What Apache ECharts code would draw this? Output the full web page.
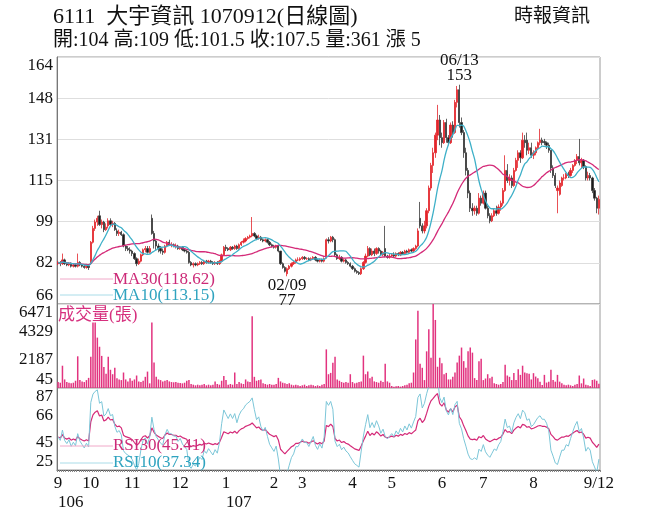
<!DOCTYPE html>
<html><head><meta charset="utf-8">
<script src="https://cdn.jsdelivr.net/npm/echarts@6/dist/echarts.min.js"></script>
<style>html,body{margin:0;padding:0;background:#fff}#c{width:656px;height:525px}</style>
</head><body><div id="c"></div>
<script>
// ---- data ----
const opens = [
82,82.5,82,83.5,82,81.5,82,81,81.5,81,
82.5,81.5,81,80.5,81,82,90.5,96,98.5,101,
97.5,98.5,95.5,97,99,97.5,98,95,94,94.5,
93.5,89,88,87.5,87,86,84,82,83,85.5,
87.5,88,86.5,100,94,91,89,88,87,86.5,
89,90.5,89.5,89.5,89,89,88,88.5,87.5,87,
86.5,82.5,81.5,82,81.5,82,82.5,82,83,82.5,
83,82.5,82,82.5,82,83,85.5,88.5,88,87.5,
88.5,88,89,88,89.5,90.5,91,92,92.5,93,
94,93,92,92.5,91.5,91,91.5,90.5,89.5,89,
88.5,89,87,82,80.5,78,80,81,82,82.5,
83.5,83.5,84,84.5,84,84,83.5,84,84.5,83.5,
83,83.5,83,84.5,91.5,91,92.5,91.5,85.5,84,
84.5,83,83.5,82.5,82,81,80,79,78.5,78,
80,82.5,85,88,85.5,87,86,88,87,85.5,
88,85,84.5,85,85.5,85,86,85.5,86.5,86,
87,86.5,87.5,87,88,89,100,97,95,97,
103,112,121,126,133,139,132,130,138,132,
130,137,134,146,151,138,134,126,119,110,
104,103,104,102,108,106,110,104,101,99,
101,103,102,104.5,106,111,119,115,116,113,
119,123,126,124,131,131,127,128,125,126,
128,130,131,130.5,130,129,127,120,117,111,
109.5,113,116,116,117.5,117,119,121,123,124.5,
122,123,120.5,116,117,116,111,108,104];
const closes = [
82.5,82,83.5,82,81.5,82,81,81.5,81,82.5,
81.5,81,80.5,81,80.5,90.5,96,98.5,100,97.5,
98.5,95.5,96.5,99,97.5,98,95.5,94,94.5,93.5,
89,88,87.5,87,86,84,82,83,85.5,87.5,
88,86.5,88,94,91,89,88,87,86.5,89,
90.5,89.5,89.5,89,89,88,88.5,87.5,87,86.5,
82.5,81.5,82,81.5,82,82.5,82,83,82.5,83,
82.5,82,82.5,82,83,85.5,88.5,88,87.5,88.5,
88,89,88,89.5,90.5,91,92,92.5,93,94,
93,92,92.5,91.5,91,91.5,90.5,89.5,89,88.5,
89,87,82,80.5,79,80,81,82,82.5,83.5,
83.5,84,84.5,84,84,83.5,84,84.5,83.5,83,
83.5,83,84,91.5,91,92.5,91.5,85.5,84,84.5,
83,83.5,82.5,82,81,80,79,78.5,78,80,
82.5,85,88,85.5,87,86,88,87,85.5,86.5,
85,84.5,85,85.5,85,86,85.5,86.5,86,87,
86.5,87.5,87,88,89,95,97,95,97,103,
112,121,126,133,139,132,130,138,132,130,
137,134,146,151,138,134,126,119,110,104,
103,104,102,108,106,110,104,101,99,101,
103,102,104.5,106,111,119,115,116,113,119,
123,126,124,131,130,127,128,125,126,128,
130,131,130,130,129,127,120,117,113,112,
114,116,116,117.5,117,119,121,123,124.5,122,
123,120.5,116,117,116,111,108,104,107.5];
const lows = [
81.5,81,81.5,81.5,81,81,80.5,80.5,80.5,80.5,
81,80.5,80,80,79.5,81.5,90,95,97,97,
96,94.5,95,96,97,96.5,95,93,93,93,
88.5,87,87,86,85,83.5,81,81.5,82.5,85,
86.5,86,86,93.5,88,87.5,86.5,86,85.5,86,
88.5,89,88.5,88.5,88,87.5,87.5,87,86.5,86,
82,81,80.5,81,81,81.5,81.5,81.5,82,82,
82,81.5,81.5,81.5,81.5,82.5,85,87,87,87,
87.5,87.5,87.5,87.5,89,90,90.5,91.5,92,92.5,
92.5,91.5,91.5,91,90.5,90.5,90,89,88.5,88,
88,86.5,81.5,80,78.5,77,79.5,80.5,81.5,82,
83,83,83.5,83.5,83.5,83,83,83.5,83,82.5,
82.5,82.5,82.5,84,90,90.5,90.5,85,83.5,83.5,
82.5,82.5,82,81.5,80.5,79.5,78.5,78,77.5,77.5,
79.5,82,84.5,85,85,85,85.5,86,85,85,
84.5,84,84,84.5,84.5,84.5,85,85,85.5,85.5,
86,86,86.5,86.5,87.5,88.5,96,94,94,96,
102,111,118,124,131,129,128,129.5,130,129,
129.5,132,133.5,144,136,133,124,117,108,102.5,
101,101.5,101,101.5,105,105.5,103.5,100,98,98.5,
100.5,101,101.5,103,105,110.5,114,113,112,112.5,
118.5,120,122,123.5,128,125,125.5,124,123.5,125,
127,129,129,129,127.5,126,118,116,112,102,
109,112.5,115,115.5,116,116.5,118,120.5,121.5,121,
120,119.5,115,115,115,110,107,102,101.5];
const highs = [
83,83,86,84,82.5,82.5,82.5,82,82,86,
83,82,81.5,81.5,81.5,91,97,99.5,101,103,
99.5,99,98,100,100,99,98.5,96,95.5,95,
94,89.5,89,88.5,87.5,86.5,84.5,84,86,88,
89,89,89,101.5,95,91.5,90,89,88,89.5,
91,91.5,90.5,90,90,89.5,89,89,88,87.5,
87,83,82.5,82.5,82.5,83,83,83.5,83.5,83.5,
83.5,83,83,83,83.5,86,89,89.5,88.5,89,
89,89.5,89.5,90,91,92,92.5,93,93.5,100.5,
94.5,93.5,93.5,93,92,92,92,91,90,89.5,
89.5,89.5,87,82.5,81,80.5,81.5,82.5,83,84,
84.5,84.5,85,85,84.5,84.5,84.5,85,85,84,
84,84,84.5,92,92.5,93,93,92,86,85.5,
85,84,84,83,82.5,81.5,80.5,79.5,79,80.5,
83,86,89,88.5,88,88,88.5,88.5,87.5,87,
97,85.5,86,86,86.5,86.5,86.5,87,87,87.5,
87.5,88,88,88.5,89.5,96,106.5,98,99,104,
113,122,128,134,145,141,134,139,139.5,133,
138,138.5,147,152.5,153,140,135,128,120,111,
106,105,105,110,109,111,111,105,102,102,
104,105,105.5,107,112,125,121.5,117.5,117,120,
124,127,127,134,133,134,130,130,127,128.5,
130.5,135.5,132,131.5,130.5,130,127,121,118,113,
115,116.5,117.5,118,118.5,120,121.5,123.5,125.5,131.5,
124,123.5,121,118.5,118,116.5,112,108.5,109];
const volumes = [
500,450,1750,700,500,450,400,450,600,2470,
650,550,500,650,820,2440,5050,5050,3900,3200,
2500,1650,1130,2440,1440,1100,1590,800,700,650,
1230,700,550,800,600,700,1000,550,500,600,
900,1300,400,5050,2000,900,700,650,550,600,
650,550,500,480,500,450,420,400,450,600,
650,350,300,250,300,250,300,350,250,300,
250,300,550,350,300,600,970,650,300,350,
300,1230,350,500,400,350,700,550,500,5540,
900,600,650,700,400,350,300,350,300,300,
350,820,550,450,400,350,400,300,250,300,
250,200,250,300,200,250,300,250,200,250,
200,300,350,3000,1100,1200,1980,2440,700,600,
500,450,500,450,1100,500,400,450,500,550,
2520,1100,1300,800,900,550,500,450,600,500,
1900,550,450,200,150,180,200,150,200,250,
300,400,450,1230,3760,5950,1900,1590,650,2850,
4530,2360,6471,5250,1670,2360,1940,1100,1200,700,
700,900,1230,2000,2520,3140,2100,1590,2850,3140,
2750,800,650,2100,2290,650,770,1100,800,900,
400,350,300,350,500,1820,1000,900,650,1200,
650,1480,1050,1750,1230,1180,1130,700,1180,920,
790,530,280,1050,460,530,1440,660,530,1050,
530,400,300,250,300,250,200,300,350,1000,
400,770,300,250,200,660,700,600,361];
const monthStarts = [0,15,34,56,77,99,112,135,153,176,195,218,248];
const monthLabels = ['9','10','11','12','1','2','3','4','5','6','7','8','9/12'];
const yearStarts = [0,77];
const yearLabels = ['106','107'];
const peakDate = '06/13', troughDate = '02/09';
const titleText = '6111  大宇資訊 1070912(日線圖)';
const infoText = '開:104 高:109 低:101.5 收:107.5 量:361 漲 5';
const sourceText = '時報資訊';
const maLegend = ['MA30(118.62)','MA10(113.15)'];
const rsiLegend = ['RSI30(45.41)','RSI10(37.34)'];

// ---- derived ----
const days = closes.map((_, i) => String(i));
const candles = closes.map((c, i) => [opens[i], c, lows[i], highs[i]]);
function ma(n) {
  return closes.map((_, i) => {
    const s = Math.max(0, i - n + 1); let t = 0;
    for (let k = s; k <= i; k++) t += closes[k];
    return +(t / (i - s + 1)).toFixed(2);
  });
}
function rsi(n) {
  let ag = 0.5, al = 0.5; const out = [];
  for (let i = 0; i < closes.length; i++) {
    if (i > 0) {
      const d = closes[i] - closes[i - 1];
      ag = (ag * (n - 1) + Math.max(d, 0)) / n;
      al = (al * (n - 1) + Math.max(-d, 0)) / n;
    }
    out.push(+(100 - 100 / (1 + ag / al)).toFixed(2));
  }
  return out;
}
let peakIdx = 0, lowIdx = 0;
highs.forEach((h, i) => { if (h > highs[peakIdx]) peakIdx = i; });
lows.forEach((l, i) => { if (l < lows[lowIdx]) lowIdx = i; });

const SERIF = '"Liberation Serif","Times New Roman","Noto Sans CJK TC",serif';
const RED = '#e3242b', BLK = '#1b1b1b', PINK = '#d42a78', CYAN = '#3eb0c8';
const lbl = { fontFamily: SERIF, fontSize: 17, color: '#111' };

const chart = echarts.init(document.getElementById('c'), null, { renderer: 'canvas' });
const gridBase = { left: 57, right: 56, show: true, borderColor: '#9a9a9a', borderWidth: 1, backgroundColor: '#fff' };
const catAxis = (g) => ({ type: 'category', gridIndex: g, data: days, boundaryGap: true,
  axisLine: { show: false }, axisTick: { show: false }, axisLabel: { show: false }, splitLine: { show: false } });

chart.setOption({
  animation: false,
  backgroundColor: '#fff',
  title: [
    { text: titleText, left: 53, top: 6, padding: 0, textStyle: { fontFamily: SERIF, fontSize: 22, fontWeight: 'normal', color: '#111' } },
    { text: infoText, left: 53, top: 31, padding: 0, textStyle: { fontFamily: SERIF, fontSize: 20, fontWeight: 'normal', color: '#111' } },
    { text: sourceText, left: 514, top: 8, padding: 0, textStyle: { fontFamily: SERIF, fontSize: 19, fontWeight: 'normal', color: '#111' } }
  ],
  grid: [
    Object.assign({ top: 57, height: 247 }, gridBase),
    Object.assign({ top: 304, height: 84 }, gridBase),
    Object.assign({ top: 388, height: 82 }, gridBase)
  ],
  xAxis: [
    catAxis(0), catAxis(1),
    { type: 'category', gridIndex: 2, data: days, boundaryGap: true,
      axisLine: { show: true, lineStyle: { color: '#555' } },
      axisTick: { show: true, interval: 0, length: 2, lineStyle: { color: '#888' } },
      axisLabel: Object.assign({ interval: (i) => monthStarts.includes(i), margin: 5,
        formatter: (v, i) => monthLabels[monthStarts.indexOf(i)] }, lbl),
      splitLine: { show: false } },
    { type: 'category', gridIndex: 2, data: days, boundaryGap: true, position: 'bottom', offset: 19,
      axisLine: { show: false }, axisTick: { show: false },
      axisLabel: Object.assign({ interval: (i) => yearStarts.includes(i), margin: 5, align: 'left',
        formatter: (v, i) => yearLabels[yearStarts.indexOf(i)] }, lbl),
      splitLine: { show: false } }
  ],
  yAxis: [
    { type: 'value', gridIndex: 0, min: 66, max: 164, interval: 98 / 6,
      axisLine: { show: true, lineStyle: { color: '#777' } }, axisTick: { show: false },
      splitLine: { show: true, lineStyle: { color: '#dedede' } },
      axisLabel: Object.assign({ margin: 4, formatter: (v) => String(Math.round(v)),
        verticalAlignMinLabel: 'bottom', verticalAlignMaxLabel: 'top' }, lbl) },
    { type: 'value', gridIndex: 1, min: 45, max: 6471, interval: 2142,
      axisLine: { show: true, lineStyle: { color: '#777' } }, axisTick: { show: false },
      splitLine: { show: false },
      axisLabel: Object.assign({ margin: 4, formatter: (v) => String(Math.round(v)),
        verticalAlignMinLabel: 'bottom', verticalAlignMaxLabel: 'top' }, lbl) },
    { type: 'value', gridIndex: 2, min: 25, max: 87, interval: 62 / 3,
      axisLine: { show: true, lineStyle: { color: '#777' } }, axisTick: { show: false },
      splitLine: { show: false },
      axisLabel: Object.assign({ margin: 4, formatter: (v) => String(Math.floor(v + 1e-6)),
        verticalAlignMinLabel: 'bottom', verticalAlignMaxLabel: 'top' }, lbl) }
  ],
  series: [
    { type: 'candlestick', name: 'K', xAxisIndex: 0, yAxisIndex: 0, data: candles, barWidth: 1.8,
      itemStyle: { color: RED, color0: BLK, borderColor: RED, borderColor0: '#3a3a3a', borderWidth: 0.8 },
      markPoint: { silent: true, symbol: 'circle', symbolSize: 1, itemStyle: { color: 'rgba(0,0,0,0)' },
        label: { show: true, fontFamily: SERIF, fontSize: 17, lineHeight: 15, color: '#111' },
        data: [
          { coord: [String(peakIdx), highs[peakIdx]], label: { position: 'top', distance: 1, formatter: peakDate + '\n' + highs[peakIdx] } },
          { coord: [String(lowIdx), lows[lowIdx]], label: { position: 'bottom', distance: 1, formatter: troughDate + '\n' + lows[lowIdx] } }
        ] } },
    { type: 'line', name: 'MA30', xAxisIndex: 0, yAxisIndex: 0, data: ma(30), symbol: 'none', smooth: 0.3,
      lineStyle: { color: PINK, width: 1.3 }, z: 3 },
    { type: 'line', name: 'MA10', xAxisIndex: 0, yAxisIndex: 0, data: ma(10), symbol: 'none', smooth: 0.3,
      lineStyle: { color: CYAN, width: 1.3 }, z: 3 },
    { type: 'bar', name: 'VOL', xAxisIndex: 1, yAxisIndex: 1, data: volumes, barWidth: 1.5,
      itemStyle: { color: '#e2337f' } },
    { type: 'line', name: 'RSI30', xAxisIndex: 2, yAxisIndex: 2, data: rsi(30), symbol: 'none',
      lineStyle: { color: PINK, width: 1.2 } },
    { type: 'line', name: 'RSI10', xAxisIndex: 2, yAxisIndex: 2, data: rsi(10), symbol: 'none',
      lineStyle: { color: '#7cc6d8', width: 1 } }
  ],
  graphic: [
    { type: 'line', shape: { x1: 60, y1: 279, x2: 113, y2: 279 }, style: { stroke: '#f0a8c8', lineWidth: 1 }, z: 10 },
    { type: 'text', x: 113, y: 280, z: 10, style: { text: maLegend[0], fill: '#cc2a78', fontFamily: SERIF, fontSize: 17, verticalAlign: 'middle' } },
    { type: 'line', shape: { x1: 60, y1: 295, x2: 113, y2: 295 }, style: { stroke: '#a9dce8', lineWidth: 1 }, z: 10 },
    { type: 'text', x: 113, y: 296, z: 10, style: { text: maLegend[1], fill: '#2fa3bf', fontFamily: SERIF, fontSize: 17, verticalAlign: 'middle' } },
    { type: 'text', x: 58, y: 316, z: 10, style: { text: '成交量(張)', fill: '#d6307e', fontFamily: SERIF, fontSize: 17, verticalAlign: 'middle' } },
    { type: 'line', shape: { x1: 60, y1: 446, x2: 113, y2: 446 }, style: { stroke: '#f0a8c8', lineWidth: 1 }, z: 10 },
    { type: 'text', x: 113, y: 446, z: 10, style: { text: rsiLegend[0], fill: '#cc2a78', fontFamily: SERIF, fontSize: 17, verticalAlign: 'middle' } },
    { type: 'line', shape: { x1: 60, y1: 463, x2: 113, y2: 463 }, style: { stroke: '#a9dce8', lineWidth: 1 }, z: 10 },
    { type: 'text', x: 113, y: 463, z: 10, style: { text: rsiLegend[1], fill: '#2fa3bf', fontFamily: SERIF, fontSize: 17, verticalAlign: 'middle' } }
  ]
});
</script></body></html>
